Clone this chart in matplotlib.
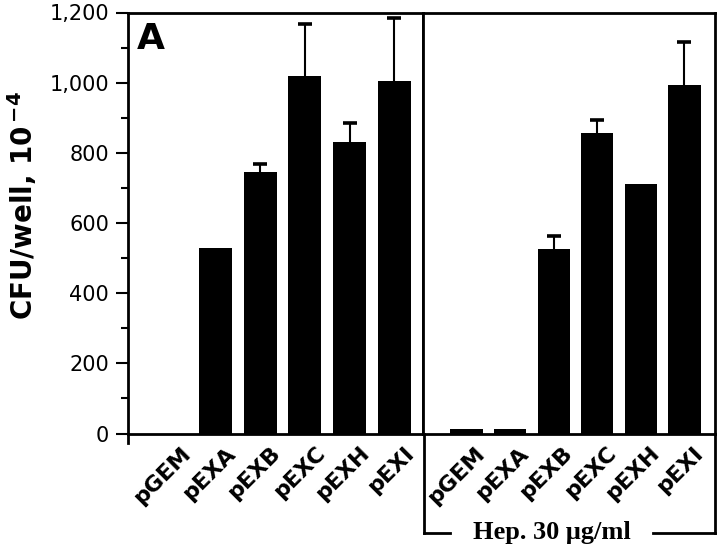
import matplotlib
matplotlib.use("Agg")
import matplotlib.pyplot as plt
import matplotlib.transforms as mtransforms
from matplotlib.lines import Line2D
import numpy as np

plasmids = ["pGEM", "pEXA", "pEXB", "pEXC", "pEXH", "pEXI"]

# CFU/well values (x 10^-4)
no_heparin = [0, 529, 745, 1019, 831, 1005]
no_heparin_err = [0, 0, 23, 148, 54, 179]
heparin = [12, 12, 526, 857, 711, 993]
heparin_err = [0, 0, 37, 37, 0, 123]

y_ticks = [0, 200, 400, 600, 800, 1000, 1200]
y_tick_labels = ["0", "200", "400", "600", "800", "1,000", "1,200"]

W, H = 720, 556
fig = plt.figure(figsize=(W / 100, H / 100), dpi=100)

bottom = 1 - 433.5 / H
height = (433.5 - 12.5) / H
ax_left = fig.add_axes([128 / W, bottom, (423 - 128) / W, height])
ax_right = fig.add_axes([423 / W, bottom, (715 - 423) / W, height])

lw = 2.0
x = np.arange(len(plasmids))


def draw_panel(ax, values, errors, xlim, label_dx):
    ax.bar(x, values, width=0.74, color="black", edgecolor="black", linewidth=0)
    err_x = [xi for xi, e in zip(x, errors) if e > 0]
    err_y = [v for v, e in zip(values, errors) if e > 0]
    err_up = [e for e in errors if e > 0]
    # only the upper half of each error bar is shown
    _, caps, _ = ax.errorbar(err_x, err_y, yerr=[np.zeros(len(err_up)), err_up],
                             fmt="none", ecolor="black", elinewidth=1.5,
                             capsize=5, capthick=2.6)
    caps[0].set_visible(False)
    ax.set_xlim(*xlim)
    ax.set_ylim(0, 1200)
    ax.set_xticks(x)
    ax.set_xticklabels(plasmids, fontsize=16, fontweight="bold",
                       family="DejaVu Sans")
    ax.tick_params(axis="x", length=0, pad=7)
    offset = mtransforms.ScaledTranslation(label_dx / 72, 0, fig.dpi_scale_trans)
    for lab in ax.get_xticklabels():
        lab.set_rotation(45)
        lab.set_ha("right")
        lab.set_va("top")
        lab.set_rotation_mode("anchor")
        lab.set_transform(lab.get_transform() + offset)
    for sp in ax.spines.values():
        sp.set_linewidth(lw)


draw_panel(ax_left, no_heparin, no_heparin_err, (-0.955, 5.64), 7)
draw_panel(ax_right, heparin, heparin_err, (-1.0, 5.70), 6)

# y axis on the left panel only
ax_left.set_yticks(y_ticks)
ax_left.set_yticklabels(y_tick_labels, fontsize=15, family="DejaVu Sans")
ax_left.set_yticks(np.arange(100, 1200, 200), minor=True)
ax_left.tick_params(axis="y", which="major", length=8.5, width=1.5, pad=5)
ax_left.tick_params(axis="y", which="minor", length=5, width=1.5)
ax_right.tick_params(axis="y", left=False, labelleft=False)

# small stub of the y spine below zero
ax_left.add_line(Line2D([0, 0], [0, -0.022], transform=ax_left.transAxes,
                        color="black", lw=lw, clip_on=False))

# panel letter
ax_left.text(0.03, 0.913, "A", transform=ax_left.transAxes, fontsize=26,
             fontweight="bold", family="DejaVu Sans", ha="left", va="baseline")

# y label
fig.text(22 / W, 1 - 206 / H, r"CFU/well, 10$^{\,\mathbf{-4}}$", rotation=90,
         fontsize=20, fontweight="bold", family="DejaVu Sans",
         ha="center", va="center")

# bracket below the heparin panel
bracket_y = -(533 - 433.5) / 421
tr = ax_right.transAxes
for xs, ys in [([0.004, 0.004], [0, bracket_y]),
               ([1.0, 1.0], [0, bracket_y]),
               ([0.004, 0.092], [bracket_y, bracket_y]),
               ([0.788, 1.0], [bracket_y, bracket_y])]:
    ax_right.add_line(Line2D(xs, ys, transform=tr, color="black", lw=lw,
                             clip_on=False, solid_capstyle="projecting"))

ax_right.text(0.44, bracket_y, "Hep. 30 \u03bcg/ml", transform=tr,
              fontsize=19, fontweight="bold", family="Liberation Serif",
              ha="center", va="center")

fig.savefig("out.png", dpi=100)
